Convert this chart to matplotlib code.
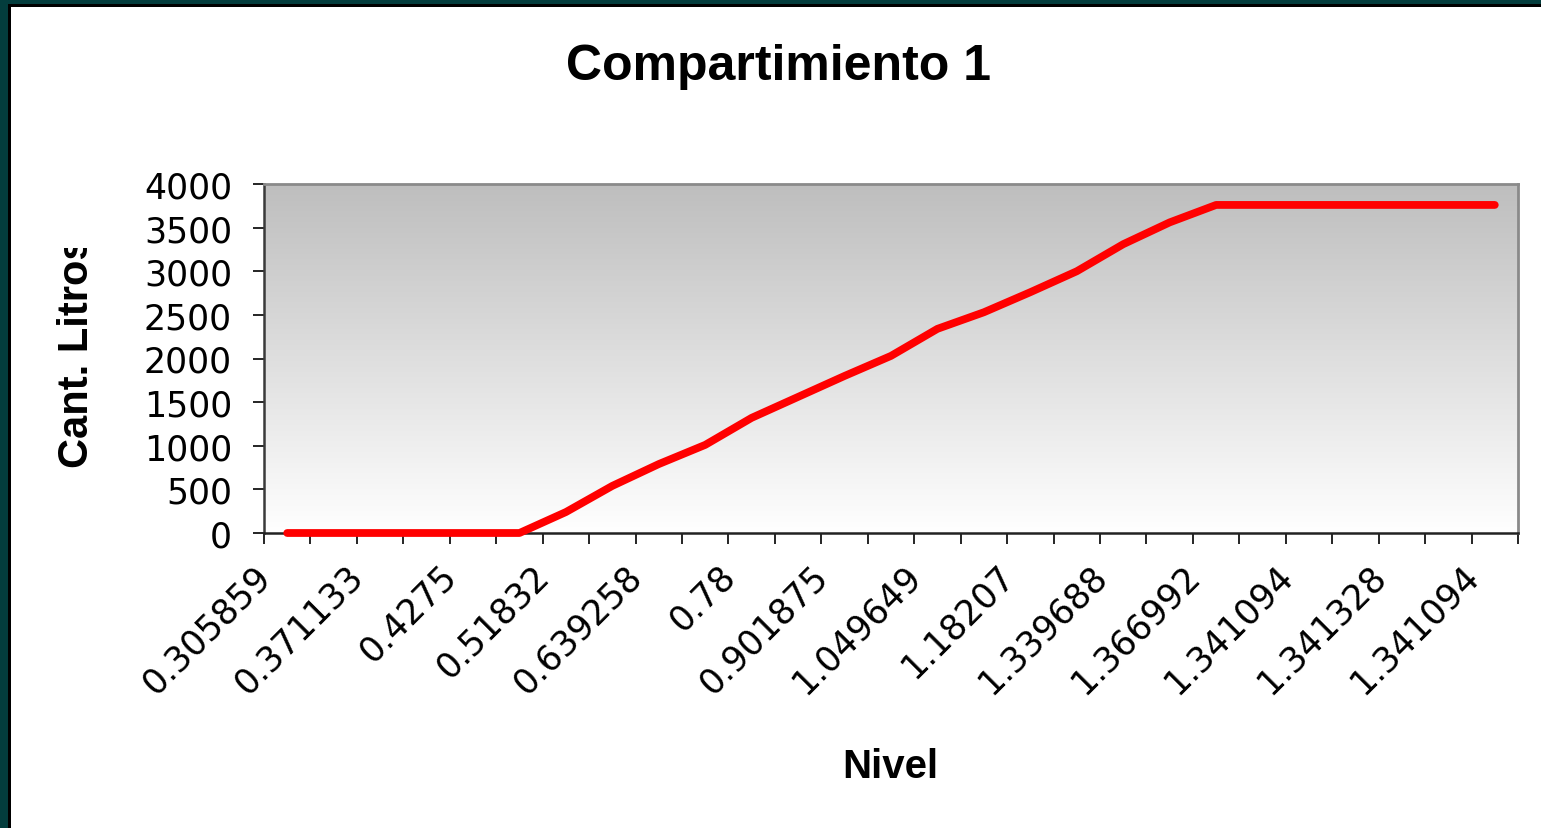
import numpy as np
import matplotlib
matplotlib.use('Agg')
import matplotlib.pyplot as plt
from matplotlib.colors import LinearSegmentedColormap
from matplotlib.patches import Rectangle
from matplotlib.transforms import ScaledTranslation, Bbox, TransformedBbox

# Nivel (only every other category label is shown in the chart)
nivel_labels = ['0.305859', '0.371133', '0.4275', '0.51832', '0.639258', '0.78',
                '0.901875', '1.049649', '1.18207', '1.339688', '1.366992',
                '1.341094', '1.341328', '1.341094']
# Cant. Litros, one value per category (27 categories)
litros = [0, 0, 0, 0, 0, 0, 240, 540, 790, 1010, 1320, 1560, 1800, 2030,
          2340, 2530, 2760, 3000, 3310, 3560, 3760, 3760, 3760, 3760, 3760,
          3760, 3760]

plt.rcParams['font.family'] = ['Liberation Sans', 'DejaVu Sans']
tick_font = 'DejaVu Sans'

W, H = 1541, 829
fig = plt.figure(figsize=(W / 100, H / 100), dpi=100)
fig.patch.set_facecolor('#033d3d')

# frame: teal border, thin black line, white inside
fig.patches.append(Rectangle((8 / W, 0), 1, 1 - 5 / H, transform=fig.transFigure,
                             facecolor='black', edgecolor='none', zorder=-3))
fig.patches.append(Rectangle((11 / W, 0), 1, 1 - 8 / H, transform=fig.transFigure,
                             facecolor='white', edgecolor='none', zorder=-2))

ax = fig.add_axes([264 / W, 1 - 534 / H, (1518 - 264) / W, (534 - 185) / H])

# gray-to-white gradient in the plot area
cmap = LinearSegmentedColormap.from_list('bg', ['#ffffff', '#bebebe'])
grad = np.linspace(0, 1, 256).reshape(-1, 1)
ax.imshow(grad, cmap=cmap, aspect='auto', extent=[0, 1, 0, 1], origin='lower',
          transform=ax.transAxes, zorder=0)

x = np.arange(len(litros))
ax.plot(x, litros, color='#ff0000', lw=5.6, solid_capstyle='round',
        solid_joinstyle='round', zorder=3, clip_on=False)

ax.set_xlim(-0.5, len(litros) - 0.5)
ax.set_ylim(0, 4000)
ax.set_yticks(np.arange(0, 4001, 500))
ax.tick_params(axis='y', labelsize=25, length=8, width=1.2, pad=15, direction='out')

ax.set_xticks(np.arange(0, len(litros), 2))
ax.set_xticklabels(nivel_labels, rotation=45, ha='right', va='top')
ax.set_xticks(np.arange(-0.5, len(litros), 1), minor=True)
ax.tick_params(axis='x', which='major', labelsize=25, length=0, pad=18)
ax.tick_params(axis='x', which='minor', length=8, width=1.2, direction='out')
offset = ScaledTranslation(-10 / 100, 0, fig.dpi_scale_trans)
for lab in ax.get_xticklabels():
    lab.set_transform(lab.get_transform() + offset)
for lab in ax.get_xticklabels() + ax.get_yticklabels():
    lab.set_fontfamily(tick_font)

for side in ['top', 'right']:
    ax.spines[side].set_color('#8a8a8a')
    ax.spines[side].set_linewidth(2)
ax.spines['left'].set_color('#3a3a3a')
ax.spines['left'].set_linewidth(1.8)
ax.spines['bottom'].set_color('#222222')
ax.spines['bottom'].set_linewidth(1.8)

fig.text(778 / W, 1 - 80 / H, 'Compartimiento 1', fontsize=36, fontweight='bold',
         ha='center', va='baseline')
fig.text(890 / W, 1 - 778 / H, 'Nivel', fontsize=29, fontweight='bold',
         ha='center', va='baseline')
ylab = fig.text(77 / W, 1 - 352 / H, 'Cant. Litros', fontsize=30, fontweight='bold',
                rotation=90, ha='center', va='center')
ylab.set_clip_box(TransformedBbox(Bbox([[0, 0], [1, 1 - 249 / H]]), fig.transFigure))
ylab.set_clip_on(True)

fig.savefig('out.png', dpi=100, facecolor=fig.get_facecolor())
